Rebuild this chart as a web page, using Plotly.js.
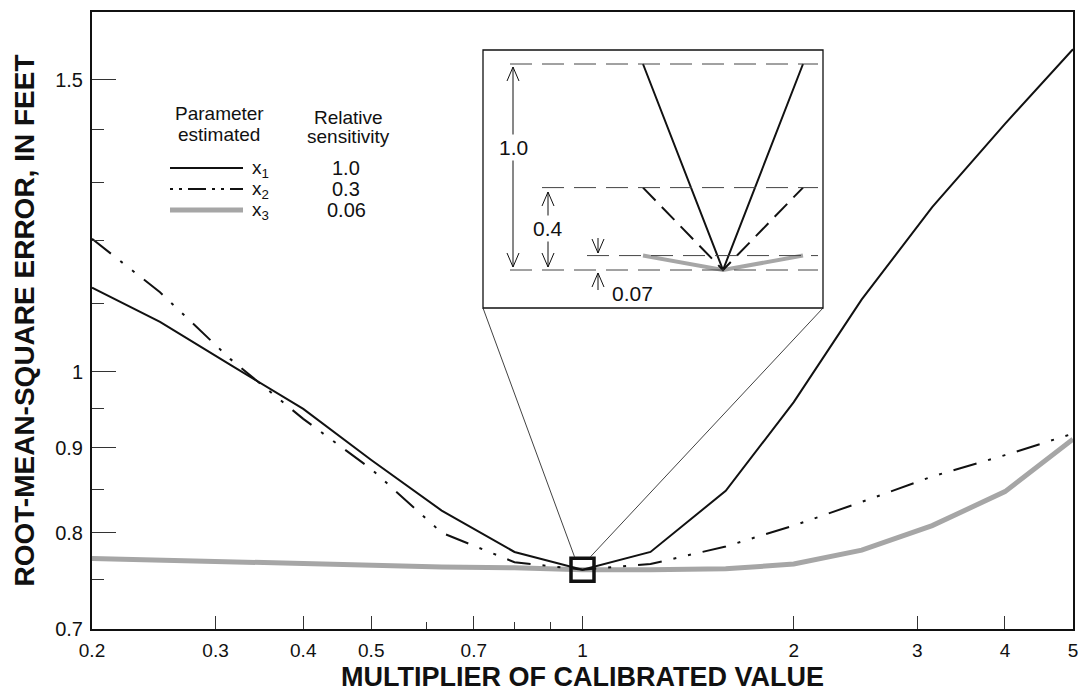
<!DOCTYPE html>
<html><head><meta charset="utf-8">
<script src="https://cdn.plot.ly/plotly-3.0.1.min.js"></script>
<style>html,body{margin:0;padding:0;background:#fff}#chart{width:1085px;height:697px}</style>
</head><body><div id="chart"></div>
<script>
// ---- data ----
const multipliers = [0.2, 0.25, 0.315, 0.4, 0.5, 0.63, 0.8, 1, 1.25, 1.6, 2, 2.5, 3.15, 4, 5];
const rmseX1 = [1.124, 1.072, 1.010, 0.950, 0.885, 0.825, 0.779, 0.760, 0.779, 0.848, 0.959, 1.106, 1.257, 1.411, 1.565];
const rmseX2 = [1.203, 1.117, 1.018, 0.937, 0.874, 0.800, 0.768, 0.760, 0.766, 0.785, 0.808, 0.835, 0.865, 0.891, 0.918];
const rmseX3 = [0.772, 0.770, 0.769, 0.767, 0.765, 0.763, 0.762, 0.760, 0.760, 0.761, 0.766, 0.781, 0.808, 0.847, 0.911];
const xTickVals = [0.2, 0.3, 0.4, 0.5, 0.7, 1, 2, 3, 4, 5];
const xTickText = ['0.2', '0.3', '0.4', '0.5', '0.7', '1', '2', '3', '4', '5'];
const xMinorVals = [0.6, 0.8, 0.9];
const yTickVals = [0.7, 0.8, 0.9, 1, 1.5];
const yTickText = ['0.7', '0.8', '0.9', '1', '1.5'];
const yMinorVals = [0.75, 0.85, 0.95, 1.1, 1.2, 1.3, 1.4];
const legendNames = ['x<sub>1</sub>', 'x<sub>2</sub>', 'x<sub>3</sub>'];
const legendSens = ['1.0', '0.3', '0.06'];
// inset (schematic of relative sensitivity)
const insetX = [-1, 0, 1];
const insetY1 = [1.0, 0, 1.0];
const insetY2 = [0.4, 0, 0.4];
const insetY3 = [0.07, 0, 0.07];
const insetLevelLabels = ['1.0', '0.4', '0.07'];
const minRmse = 0.76;

// ---- geometry / style ----
const W = 1085, H = 697, L = 92, R = 1073, T = 12, B = 629;
const px = v => (v - L) / (R - L);
const py = v => (B - v) / (B - T);
const FONT = 'Liberation Sans, Arial, sans-serif';
const DASHDOT = '24px,12px,3px,12px,3px,12px';
const GRAY = '#a6a6a6';
const XR = [Math.log10(0.2), Math.log10(5)];
const YR = [Math.log10(0.7), Math.log10(1.648)];

const traces = [
  {x: multipliers, y: rmseX3, mode: 'lines', line: {color: GRAY, width: 5}, xaxis: 'x', yaxis: 'y'},
  {x: multipliers, y: rmseX2, mode: 'lines', line: {color: '#111', width: 2, dash: DASHDOT}, xaxis: 'x', yaxis: 'y'},
  {x: multipliers, y: rmseX1, mode: 'lines', line: {color: '#111', width: 2}, xaxis: 'x', yaxis: 'y'},
  {x: insetX, y: insetY3, mode: 'lines', line: {color: GRAY, width: 4}, xaxis: 'x2', yaxis: 'y2'},
  {x: insetX, y: insetY2, mode: 'lines', line: {color: '#111', width: 2, dash: '18px,9px'}, xaxis: 'x2', yaxis: 'y2'},
  {x: insetX, y: insetY1, mode: 'lines', line: {color: '#111', width: 2}, xaxis: 'x2', yaxis: 'y2'}
];

// inset axis mapping: 80 px per x unit (apex at px 723), 206 px per y unit (zero at py 270)
const ix = p => (p - 723) / 80;
const iy = p => (270 - p) / 206;
const ADX = 6 / 80, ADY = 14 / 206;

const shapes = [];
// inset frame
shapes.push({type: 'rect', xref: 'paper', yref: 'paper', x0: px(483), x1: px(823), y0: py(308), y1: py(50),
  line: {color: '#111', width: 1.3}, fillcolor: 'rgba(0,0,0,0)', layer: 'above'});
// dashed reference levels in inset
const levelStarts = [510, 542, 587];
[insetY1[0], insetY2[0], insetY3[0]].forEach((lv, i) => {
  shapes.push({type: 'line', xref: 'x2', yref: 'y2', x0: ix(levelStarts[i]), x1: ix(818), y0: lv, y1: lv,
    line: {color: '#444', width: 1, dash: '22px,10px'}});
});
shapes.push({type: 'line', xref: 'x2', yref: 'y2', x0: ix(510), x1: ix(818), y0: 0, y1: 0,
  line: {color: '#444', width: 1, dash: '22px,10px'}});
// arrows
function vline(x, y0, y1) {
  shapes.push({type: 'line', xref: 'x2', yref: 'y2', x0: x, x1: x, y0: y0, y1: y1, line: {color: '#111', width: 1}});
}
function head(x, y, up) {
  const s = up ? -1 : 1;
  shapes.push({type: 'path', xref: 'x2', yref: 'y2',
    path: `M ${x - ADX},${y + s * ADY} L ${x},${y} L ${x + ADX},${y + s * ADY}`, line: {color: '#111', width: 1}});
}
const a1 = ix(513), a2 = ix(548), a3 = ix(598);
vline(a1, iy(67), iy(267)); head(a1, iy(67), true); head(a1, iy(267), false);
vline(a2, iy(192), iy(267)); head(a2, iy(192), true); head(a2, iy(267), false);
vline(a3, iy(238), iy(253)); head(a3, iy(253), false);
vline(a3, iy(290), iy(273)); head(a3, iy(273), true);

// zoom box at the minimum and connector lines
const bx = (Math.log10(1) - XR[0]) / (XR[1] - XR[0]);
const by = (Math.log10(minRmse) - YR[0]) / (YR[1] - YR[0]);
shapes.push({type: 'rect', xref: 'paper', yref: 'paper', xsizemode: 'pixel', ysizemode: 'pixel',
  xanchor: bx, yanchor: by, x0: -11.5, x1: 11.5, y0: -11.5, y1: 11.5, line: {color: '#111', width: 3.5}, layer: 'above'});
const bxp = L + bx * (R - L), byp = B - by * (B - T);
shapes.push({type: 'line', xref: 'paper', yref: 'paper', xsizemode: 'pixel', ysizemode: 'pixel',
  xanchor: bx, yanchor: by, x0: -8, y0: 13, x1: 483 - bxp, y1: byp - 308, line: {color: '#111', width: 0.8}});
shapes.push({type: 'line', xref: 'paper', yref: 'paper', xsizemode: 'pixel', ysizemode: 'pixel',
  xanchor: bx, yanchor: by, x0: 8, y0: 13, x1: 823 - bxp, y1: byp - 308, line: {color: '#111', width: 0.8}});

// legend samples
const legRows = [168, 189, 210];
shapes.push({type: 'line', xref: 'paper', yref: 'paper', x0: px(170), x1: px(243), y0: py(legRows[0]), y1: py(legRows[0]), line: {color: '#111', width: 2}});
shapes.push({type: 'line', xref: 'paper', yref: 'paper', x0: px(170), x1: px(243), y0: py(legRows[1]), y1: py(legRows[1]), line: {color: '#111', width: 2, dash: '3px,6px,3px,6px,18px,6px'}});
shapes.push({type: 'line', xref: 'paper', yref: 'paper', x0: px(170), x1: px(243), y0: py(legRows[2]), y1: py(legRows[2]), line: {color: GRAY, width: 5}});

const annotations = [];
const tf = {family: FONT, size: 19, color: '#111'};
function txt(x, y, t, f, xa) {
  annotations.push({xref: 'paper', yref: 'paper', x: px(x), y: py(y), text: t, showarrow: false, font: f, xanchor: xa || 'center', yanchor: 'middle', borderpad: 0});
}
txt(219, 114, 'Parameter', tf);
txt(219, 134, 'estimated', tf);
txt(348, 117, 'Relative', tf);
txt(348, 137, 'sensitivity', tf);
legendNames.forEach((n, i) => {
  txt(251, legRows[i] + 1, n, {family: FONT, size: 19, color: '#111'}, 'left');
  txt(346, legRows[i], legendSens[i], {family: FONT, size: 20, color: '#111'});
});
// inset labels
const lf = {family: FONT, size: 21, color: '#111'};
annotations.push({xref: 'x2', yref: 'y2', x: a1, y: iy(147), text: insetLevelLabels[0], showarrow: false, font: lf, bgcolor: '#fff', borderpad: 1});
annotations.push({xref: 'x2', yref: 'y2', x: a2, y: iy(228), text: insetLevelLabels[1], showarrow: false, font: lf, bgcolor: '#fff', borderpad: 1});
annotations.push({xref: 'x2', yref: 'y2', x: ix(610), y: iy(293), text: insetLevelLabels[2], showarrow: false, font: lf, xanchor: 'left'});

const layout = {
  width: W, height: H,
  margin: {l: L, r: W - R, t: T, b: H - B, pad: 0},
  paper_bgcolor: '#fff', plot_bgcolor: 'rgba(0,0,0,0)',
  showlegend: false,
  font: {family: FONT, color: '#111'},
  xaxis: {
    type: 'log', range: XR, showgrid: false, zeroline: false,
    showline: true, linecolor: '#111', linewidth: 2, mirror: true,
    ticks: 'inside', ticklen: 13, tickwidth: 1, tickcolor: '#333',
    tickvals: xTickVals, ticktext: xTickText, tickfont: {family: FONT, size: 19, color: '#111'},
    ticklabelstandoff: 3,
    minor: {tickvals: xMinorVals, ticks: 'inside', ticklen: 7, tickwidth: 1, tickcolor: '#333', showgrid: false},
    title: {text: 'MULTIPLIER OF CALIBRATED VALUE', font: {family: FONT, size: 27, weight: 'bold', color: '#111'}, standoff: 7}
  },
  yaxis: {
    type: 'log', range: YR, showgrid: false, zeroline: false,
    showline: true, linecolor: '#111', linewidth: 2, mirror: true,
    ticks: 'inside', ticklen: 24, tickwidth: 1, tickcolor: '#333',
    tickvals: yTickVals, ticktext: yTickText, tickfont: {family: FONT, size: 20, color: '#111'},
    ticklabelstandoff: 3,
    minor: {tickvals: yMinorVals, ticks: 'inside', ticklen: 12, tickwidth: 1, tickcolor: '#333', showgrid: false},
    title: {text: 'ROOT-MEAN-SQUARE ERROR, IN FEET', font: {family: FONT, size: 28, weight: 'bold', color: '#111'}, standoff: 12}
  },
  xaxis2: {domain: [px(483), px(823)], range: [ix(483), ix(823)], anchor: 'y2', visible: false, fixedrange: true},
  yaxis2: {domain: [py(308), py(50)], range: [iy(308), iy(50)], anchor: 'x2', visible: false, fixedrange: true},
  shapes: shapes,
  annotations: annotations
};

Plotly.newPlot('chart', traces, layout, {displayModeBar: false, staticPlot: true});
</script>
</body></html>
